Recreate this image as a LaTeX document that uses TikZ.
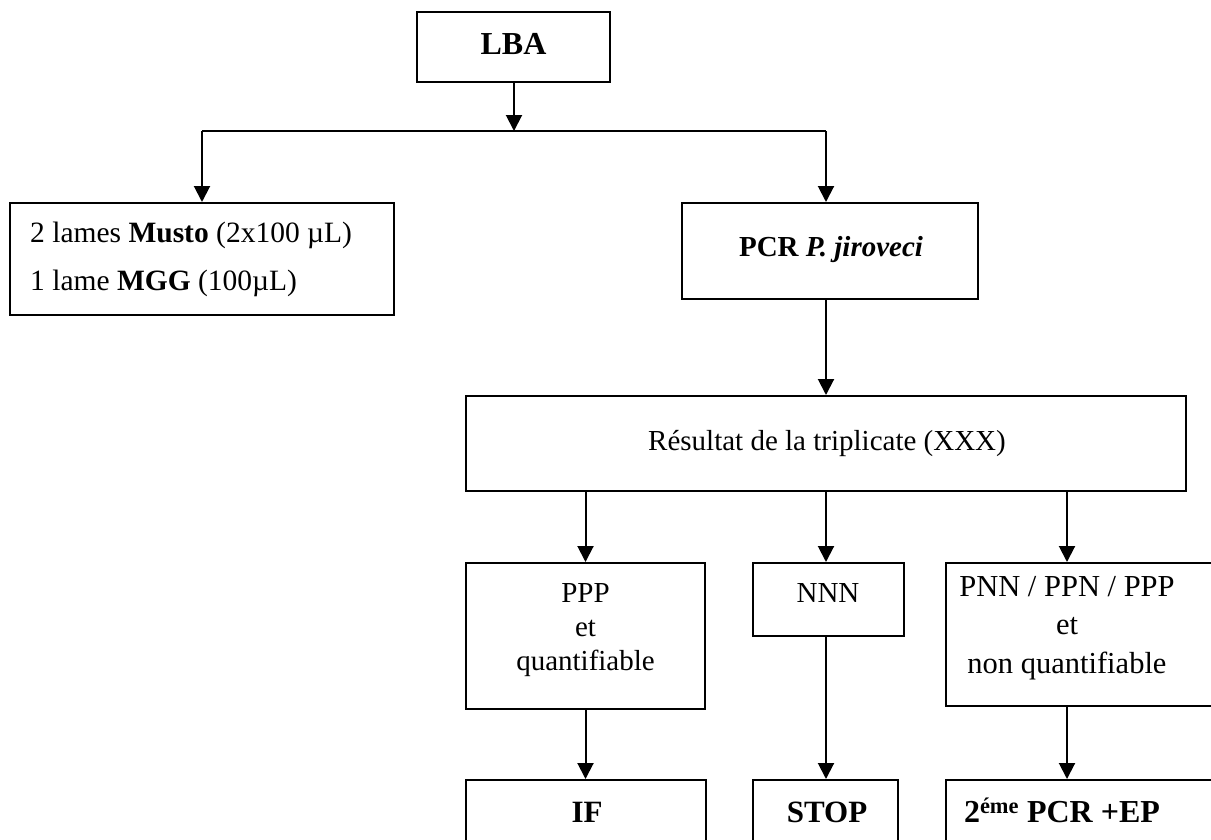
\documentclass[tikz,border=0pt]{standalone}
\usepackage{fontspec}
\setmainfont{Liberation Serif}
\usetikzlibrary{arrows.meta}
\begin{document}
\begin{tikzpicture}[x=1pt,y=-1pt,
  box/.style={draw, line width=2pt, inner sep=0pt, anchor=center},
  txt/.style={inner sep=0pt, align=center, font=\fontsize{29}{34}\selectfont},
  btxt/.style={inner sep=0pt, align=center, font=\fontsize{31}{36}\selectfont\bfseries},
  arr/.style={line width=2pt, -{Triangle[width=16pt,length=16pt]}},
  ln/.style={line width=2pt}]
\useasboundingbox (0,0) rectangle (1211,839);
\clip (0,0) rectangle (1211,839);
\fill[white] (0,0) rectangle (1211,839);

% boxes
\node[box, minimum width=193pt, minimum height=70pt] (lba) at (513.5,47) {};
\node[btxt, font=\fontsize{32}{36}\selectfont\bfseries] (lbat) at (513.5,44) {LBA};

\node[box, minimum width=384pt, minimum height=112pt] (musto) at (202,259) {};
\node[txt, align=left, anchor=west, font=\fontsize{29.5}{48}\selectfont] (mustot) at (30,259)
  {2 lames \textbf{Musto} (2x100 µL)\\1 lame \textbf{MGG} (100µL)};

\node[box, minimum width=296pt, minimum height=96pt] (pcr) at (830,251) {};
\node[txt] (pcrt) at (831,250) {\textbf{PCR \textit{P. jiroveci}}};

\node[box, minimum width=720pt, minimum height=95pt] (res) at (826,443.5) {};
\node[txt] (rest) at (827,443) {Résultat de la triplicate (XXX)};

\node[box, minimum width=239pt, minimum height=146pt] (ppp) at (585.5,636) {};
\node[txt] (pppt) at (585.5,630) {PPP\\et\\quantifiable};

\node[box, minimum width=151pt, minimum height=73pt] (nnn) at (828.5,599.5) {};
\node[txt] (nnnt) at (828,593) {NNN};

\node[box, minimum width=284pt, minimum height=143pt] (pnn) at (1088,634.5) {};
\node[txt, font=\fontsize{30.5}{38.5}\selectfont] (pnnt) at (1067,628) {PNN / PPN / PPP\\et\\non quantifiable};

\node[box, minimum width=240pt, minimum height=120pt, anchor=north] (if) at (586,779) {};
\node[btxt] (ift) at (587,812) {IF};

\node[box, minimum width=145pt, minimum height=120pt, anchor=north] (stop) at (825.5,779) {};
\node[btxt] (stopt) at (827,812) {STOP};

\node[box, minimum width=284pt, minimum height=120pt, anchor=north] (two) at (1088,779) {};
\node[btxt, font=\fontsize{32}{36}\selectfont\bfseries] (twot) at (1062,810) {2\textsuperscript{éme} PCR +EP};

% connectors
\coordinate (j) at (514,131);
\coordinate (jl) at (202,131);
\coordinate (jr) at (826,131);
\draw[arr] (lba.south -| j) -- (j);
\draw[ln] (jl) -- (jr);
\draw[arr] (jl) -- (jl |- musto.north);
\draw[arr] (jr) -- (jr |- pcr.north);
\draw[arr] (res.north |- pcr.south) -- (res.north);
\draw[arr] (ppp.north |- res.south) -- (ppp.north);
\draw[arr] (res.south) -- (res.south |- nnn.north);
\draw[arr] (pnnt |- res.south) -- (pnnt |- pnn.north);
\draw[arr] (ppp.south) -- (ppp.south |- if.north);
\draw[arr] (res.south |- nnn.south) -- (res.south |- stop.north);
\draw[arr] (pnnt |- pnn.south) -- (pnnt |- two.north);
\end{tikzpicture}
\end{document}
